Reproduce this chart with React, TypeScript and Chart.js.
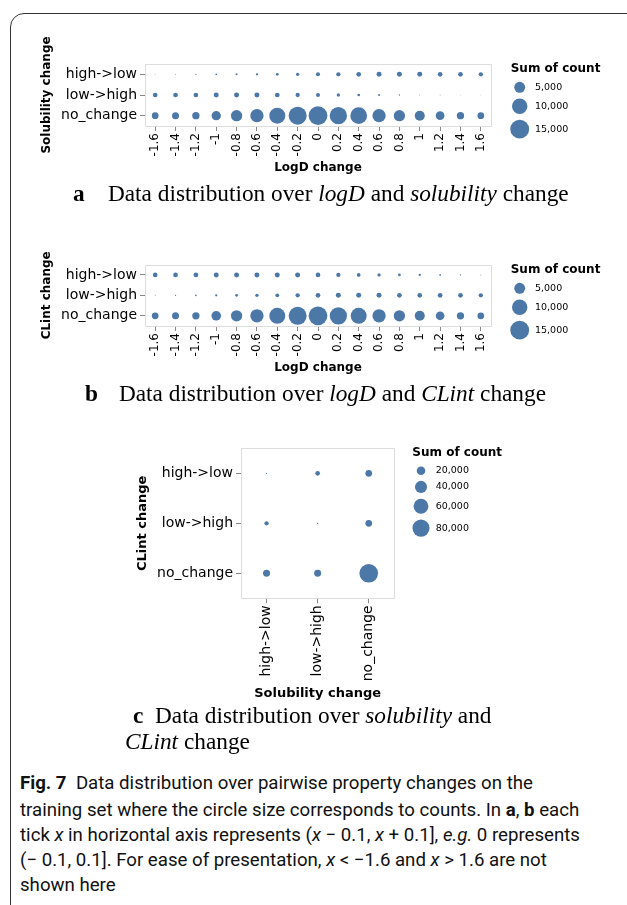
import React, { useEffect, useRef } from 'react';
import { Chart, registerables } from 'chart.js';

Chart.register(...registerables);

// ---------------- data ----------------
const logDChange = ['-1.6', '-1.4', '-1.2', '-1', '-0.8', '-0.6', '-0.4', '-0.2', '0', '0.2', '0.4', '0.6', '0.8', '1', '1.2', '1.4', '1.6'];
const changeClasses = ['high->low', 'low->high', 'no_change'];

// (a) solubility change vs logD change
const solHighToLow = [30, 40, 70, 120, 170, 220, 310, 460, 680, 780, 930, 1050, 1050, 1050, 930, 930, 780];
const solLowToHigh = [930, 930, 930, 1050, 1050, 1050, 930, 780, 680, 460, 310, 170, 70, 40, 30, 20, 20];
const solNoChange = [1890, 2070, 2250, 3650, 5390, 7470, 10800, 13700, 14800, 12600, 11800, 7470, 5390, 4220, 3190, 2250, 1890];

// (b) CLint change vs logD change
const clintHighToLow = [930, 930, 930, 1050, 1050, 1050, 1050, 1050, 930, 780, 580, 460, 310, 220, 120, 70, 40];
const clintLowToHigh = [40, 70, 120, 220, 310, 460, 580, 780, 930, 1050, 1050, 1050, 930, 930, 930, 930, 780];
const clintNoChange = [1890, 2070, 2250, 3900, 5390, 7470, 10800, 13700, 14800, 12600, 10800, 7470, 5390, 4220, 3190, 2250, 1890];

// (c) CLint change (rows) vs solubility change (columns)
const cClintHighToLow = [460, 6000, 12300];
const cClintLowToHigh = [5100, 460, 12300];
const cClintNoChange = [13400, 13400, 95000];

const legendValuesAB = [5000, 10000, 15000];
const legendValuesC = [20000, 40000, 60000, 80000];

// ---------------- styling ----------------
const PAGE_W = 627;
const PAGE_H = 905;
const MARK_COLOR = '#4c78a8';
const AXIS_FONT = 'DejaVu Sans';

type PanelSpec = {
  top: number;
  height: number;
  area: { left: number; right: number; top: number; bottom: number };
  yTitleX: number;
  xTitleY: number;
  xLabels: string[];
  yLabels: string[];
  rows: number[][];
  k: number;
  xTitle: string;
  yTitle: string;
  xTickSize: number;
  yTickSize: number;
  titleSize: number;
  legend: { values: number[]; titleX: number; titleY: number; symX: number; firstY: number; labelX: number; gap: number; labelSize: number };
};

function BubblePanel({ spec }: { spec: PanelSpec }) {
  const ref = useRef<HTMLCanvasElement>(null);
  useEffect(() => {
    const s = spec;
    const canvas = ref.current!;
    const tLH = s.titleSize * 1.2;
    const padLeft = s.yTitleX - tLH / 2;
    const yWidth = s.area.left - padLeft;
    const padTop = s.area.top - s.top;
    const padRight = PAGE_W - s.area.right;
    const xScaleBottom = s.xTitleY + tLH / 2;
    const xHeight = xScaleBottom - s.area.bottom;
    const padBottom = s.top + s.height - xScaleBottom;
    const radius = (v: number) => s.k * Math.sqrt(v);

    const datasets = s.yLabels.map((yl, ri) => ({
      label: yl,
      data: s.xLabels.map((xl, ci) => ({ x: xl, y: yl, r: radius(s.rows[ri][ci]) })),
      backgroundColor: MARK_COLOR,
      borderWidth: 0,
      hoverRadius: 0,
    }));

    const framePlugin = {
      id: 'frame',
      beforeDatasetsDraw(chart: any) {
        const { ctx, chartArea: a } = chart;
        ctx.save();
        ctx.strokeStyle = '#dddddd';
        ctx.lineWidth = 1;
        ctx.strokeRect(Math.round(a.left) + 0.5, Math.round(a.top) + 0.5, Math.round(a.right - a.left), Math.round(a.bottom - a.top));
        ctx.restore();
      },
    };

    const sizeLegendPlugin = {
      id: 'sizeLegend',
      afterDraw(chart: any) {
        const ctx = chart.ctx;
        const L = s.legend;
        ctx.save();
        ctx.fillStyle = '#000';
        ctx.textBaseline = 'middle';
        ctx.textAlign = 'left';
        ctx.font = `bold 12px "${AXIS_FONT}"`;
        ctx.fillText('Sum of count', L.titleX, L.titleY - s.top);
        let y = L.firstY - s.top;
        let prevR = 0;
        L.values.forEach((v, i) => {
          const r = radius(v);
          if (i > 0) y += prevR + r + L.gap;
          ctx.beginPath();
          ctx.fillStyle = MARK_COLOR;
          ctx.arc(L.symX, y, r, 0, Math.PI * 2);
          ctx.fill();
          ctx.fillStyle = '#000';
          ctx.font = `${L.labelSize}px "${AXIS_FONT}"`;
          ctx.fillText(v.toLocaleString('en-US'), L.labelX, y);
          prevR = r;
        });
        ctx.restore();
      },
    };

    const gridOpts = { display: true, drawOnChartArea: false, drawTicks: true, tickLength: 5, color: '#888', offset: false };
    const chart = new Chart(canvas, {
      type: 'bubble',
      data: { datasets: datasets as any },
      options: {
        animation: false,
        responsive: false,
        maintainAspectRatio: false,
        events: [],
        layout: { padding: { left: padLeft, right: padRight, top: padTop, bottom: padBottom } },
        plugins: { legend: { display: false }, tooltip: { enabled: false } },
        scales: {
          x: {
            type: 'category',
            labels: s.xLabels,
            offset: true,
            position: 'bottom',
            grid: gridOpts,
            border: { display: false },
            ticks: { autoSkip: false, minRotation: 90, maxRotation: 90, padding: 2, color: '#000', font: { family: AXIS_FONT, size: s.xTickSize } },
            title: { display: true, text: s.xTitle, color: '#000', padding: 0, font: { family: AXIS_FONT, size: s.titleSize, weight: 'bold' } },
            afterFit: (scale: any) => { scale.height = xHeight; },
          },
          y: {
            type: 'category',
            labels: s.yLabels,
            offset: true,
            position: 'left',
            grid: gridOpts,
            border: { display: false },
            ticks: { autoSkip: false, padding: 3, color: '#000', font: { family: AXIS_FONT, size: s.yTickSize } },
            title: { display: true, text: s.yTitle, color: '#000', padding: 0, font: { family: AXIS_FONT, size: s.titleSize, weight: 'bold' } },
            afterFit: (scale: any) => { scale.width = yWidth; },
          },
        } as any,
      },
      plugins: [framePlugin, sizeLegendPlugin],
    });
    return () => chart.destroy();
  }, [spec]);
  return (
    <canvas
      ref={ref}
      width={PAGE_W}
      height={spec.height}
      style={{ position: 'absolute', left: 0, top: spec.top, width: PAGE_W, height: spec.height }}
    />
  );
}

const panelA: PanelSpec = {
  top: 0, height: 185,
  area: { left: 145, right: 491, top: 64, bottom: 126 },
  yTitleX: 47, xTitleY: 168,
  xLabels: logDChange, yLabels: changeClasses,
  rows: [solHighToLow, solLowToHigh, solNoChange],
  k: 0.077,
  xTitle: 'LogD change', yTitle: 'Solubility change',
  xTickSize: 12, yTickSize: 14, titleSize: 12,
  legend: { values: legendValuesAB, titleX: 510.7, titleY: 69, symX: 519.7, firstY: 87.3, labelX: 535, gap: 5.8, labelSize: 9.5 },
};

const panelB: PanelSpec = {
  top: 200, height: 185,
  area: { left: 145, right: 491, top: 264.7, bottom: 326 },
  yTitleX: 47, xTitleY: 368.3,
  xLabels: logDChange, yLabels: changeClasses,
  rows: [clintHighToLow, clintLowToHigh, clintNoChange],
  k: 0.077,
  xTitle: 'LogD change', yTitle: 'CLint change',
  xTickSize: 12, yTickSize: 14, titleSize: 12,
  legend: { values: legendValuesAB, titleX: 510.7, titleY: 270, symX: 519.7, firstY: 288.3, labelX: 535, gap: 5.8, labelSize: 9.5 },
};

const panelC: PanelSpec = {
  top: 430, height: 280,
  area: { left: 241, right: 394.3, top: 448.3, bottom: 598.3 },
  yTitleX: 142.7, xTitleY: 694,
  xLabels: changeClasses, yLabels: changeClasses,
  rows: [cClintHighToLow, cClintLowToHigh, cClintNoChange],
  k: 0.0302,
  xTitle: 'Solubility change', yTitle: 'CLint change',
  xTickSize: 14, yTickSize: 14, titleSize: 13,
  legend: { values: legendValuesC, titleX: 412.3, titleY: 453.3, symX: 421, firstY: 470.7, labelX: 435.7, gap: 5.9, labelSize: 9.5 },
};

// ---------------- captions ----------------
type Seg = { t: string; b?: boolean; i?: boolean; gap?: number };
let mctx: CanvasRenderingContext2D | null = null;
function segFont(s: Seg, size: number, family: string) {
  return `${s.i ? 'italic ' : ''}${s.b ? 'bold ' : ''}${size}px "${family}"`;
}
function lineWidth(segs: Seg[], family: string, size: number) {
  if (!mctx) mctx = document.createElement('canvas').getContext('2d');
  let w = 0;
  for (const s of segs) {
    mctx!.font = segFont(s, size, family);
    w += mctx!.measureText(s.t).width + (s.gap || 0) * size;
  }
  return w;
}
type Line = { segs: Seg[]; x: number; cy: number; target?: number };
function fitSize(lines: Line[], family: string) {
  const base = 20;
  let a = 0;
  let b = 0;
  lines.forEach((l) => {
    if (l.target) {
      a += l.target;
      b += lineWidth(l.segs, family, base);
    }
  });
  return (base * a) / b;
}

function TextBlock({ lines, family, color }: { lines: Line[]; family: string; color: string }) {
  const size = fitSize(lines, family);
  const lh = Math.round(size * 1.25);
  return (
    <>
      {lines.map((l, li) => (
        <div
          key={li}
          style={{ position: 'absolute', left: l.x, top: l.cy - lh / 2, fontFamily: `"${family}"`, fontSize: size, lineHeight: `${lh}px`, whiteSpace: 'pre', color }}
        >
          {l.segs.map((s, i) => (
            <span key={i} style={{ fontWeight: s.b ? 'bold' : 'normal', fontStyle: s.i ? 'italic' : 'normal', marginRight: s.gap ? s.gap * size : 0 }}>
              {s.t}
            </span>
          ))}
        </div>
      ))}
    </>
  );
}

const subCaptions: Line[] = [
  { x: 73, cy: 193, target: 495, segs: [{ t: 'a', b: true, gap: 1.0 }, { t: 'Data distribution over ' }, { t: 'logD', i: true }, { t: ' and ' }, { t: 'solubility', i: true }, { t: ' change' }] },
  { x: 85, cy: 393, target: 462, segs: [{ t: 'b', b: true, gap: 0.9 }, { t: 'Data distribution over ' }, { t: 'logD', i: true }, { t: ' and ' }, { t: 'CLint', i: true }, { t: ' change' }] },
  { x: 133, cy: 715, segs: [{ t: 'c', b: true, gap: 0.5 }, { t: 'Data distribution over ' }, { t: 'solubility', i: true }, { t: ' and' }] },
  { x: 125, cy: 741, segs: [{ t: 'CLint', i: true }, { t: ' change' }] },
];

const figCaption: Line[] = [
  { x: 20, cy: 783, target: 485, segs: [{ t: 'Fig. 7', b: true, gap: 0.5 }, { t: 'Data distribution over pairwise property changes on the' }] },
  { x: 20, cy: 810, target: 585, segs: [{ t: 'training set where the circle size corresponds to counts. In ' }, { t: 'a', b: true }, { t: ', ' }, { t: 'b', b: true }, { t: ' each' }] },
  { x: 20, cy: 835, target: 586, segs: [{ t: 'tick ' }, { t: 'x', i: true }, { t: ' in horizontal axis represents (' }, { t: 'x', i: true }, { t: ' \u2212 0.1, ' }, { t: 'x', i: true }, { t: ' + 0.1], ' }, { t: 'e.g.', i: true }, { t: ' 0 represents' }] },
  { x: 20, cy: 860, target: 504, segs: [{ t: '(\u2212 0.1, 0.1]. For ease of presentation, ' }, { t: 'x', i: true }, { t: ' < \u22121.6 and ' }, { t: 'x', i: true }, { t: ' > 1.6 are not' }] },
  { x: 20, cy: 885, segs: [{ t: 'shown here' }] },
];

export default function App() {
  return (
    <div style={{ position: 'absolute', left: 0, top: 0, width: PAGE_W, height: PAGE_H, overflow: 'hidden', background: '#fff' }}>
      <div style={{ position: 'absolute', left: 10, top: 13, width: 700, height: 1000, border: '1px solid #333', borderRadius: 14 }} />
      <BubblePanel spec={panelA} />
      <BubblePanel spec={panelB} />
      <BubblePanel spec={panelC} />
      <TextBlock lines={subCaptions} family="Liberation Serif" color="#000" />
      <TextBlock lines={figCaption} family="Roboto" color="#111" />
    </div>
  );
}
